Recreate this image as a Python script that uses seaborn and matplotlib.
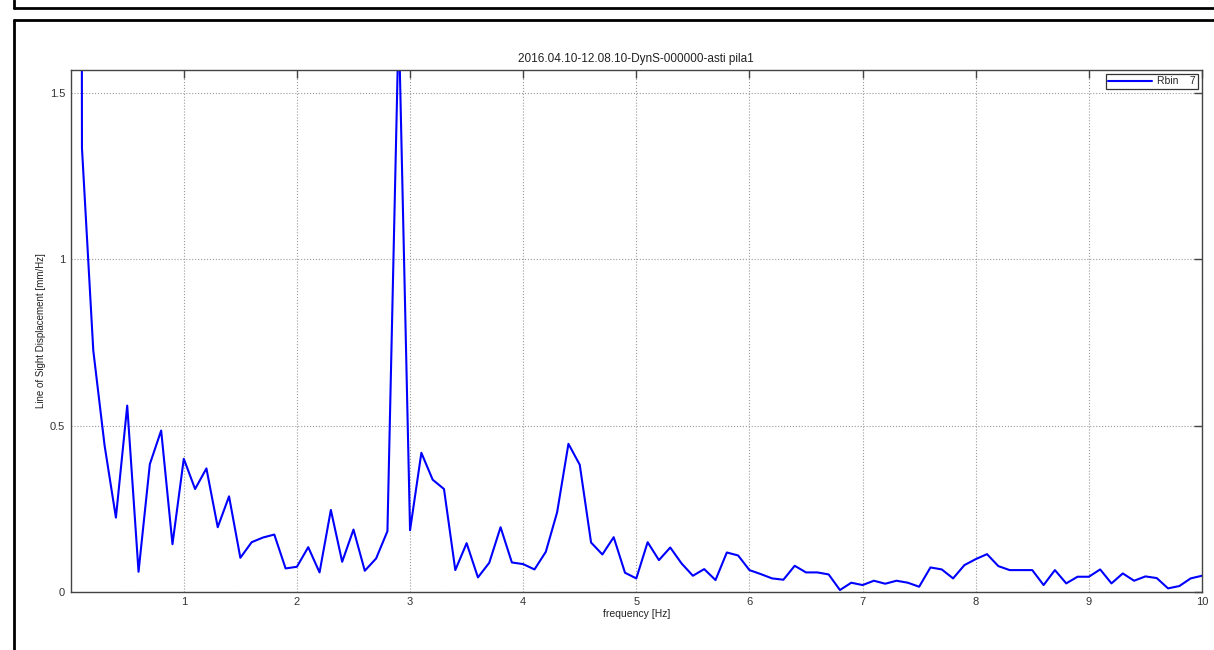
import numpy as np
import pandas as pd
import matplotlib
matplotlib.use("Agg")
import matplotlib.pyplot as plt
import seaborn as sns
from matplotlib.lines import Line2D

# frequency bins, 0.1 Hz step from 0 to 10 Hz
freq = np.linspace(0, 10, 101)

# displacement spectrum (first bin is off-scale DC)
disp = [
    30.0, 1.335, 0.726, 0.44, 0.223, 0.56, 0.06, 0.384, 0.485, 0.143,
    0.40, 0.309, 0.371, 0.194, 0.287, 0.102, 0.149, 0.163, 0.172, 0.07,
    0.075, 0.134, 0.058, 0.246, 0.09, 0.187, 0.063, 0.10, 0.182, 1.72,
    0.185, 0.418, 0.337, 0.309, 0.065, 0.146, 0.043, 0.087, 0.194, 0.088,
    0.083, 0.067, 0.12, 0.239, 0.445, 0.382, 0.148, 0.112, 0.164, 0.057,
    0.04, 0.149, 0.095, 0.133, 0.085, 0.048, 0.068, 0.035, 0.118, 0.109,
    0.065, 0.053, 0.04, 0.036, 0.078, 0.058, 0.058, 0.052, 0.005, 0.027,
    0.02, 0.033, 0.024, 0.033, 0.027, 0.015, 0.073, 0.067, 0.04, 0.08,
    0.098, 0.113, 0.077, 0.065, 0.065, 0.065, 0.02, 0.065, 0.025, 0.045,
    0.045, 0.067, 0.025, 0.055, 0.033, 0.046, 0.041, 0.01, 0.017, 0.04,
    0.048,
]

x_ticks = [1, 2, 3, 4, 5, 6, 7, 8, 9, 10]
y_ticks = [0, 0.5, 1, 1.5]
y_tick_labels = ["0", "0.5", "1", "1.5"]

title = "2016.04.10-12.08.10-DynS-000000-asti pila1"
legend_label = "Rbin    7"

df = pd.DataFrame({"freq": freq, "disp": disp})

sns.set_style("white")
plt.rcParams["font.family"] = ["Liberation Sans", "DejaVu Sans"]

fig = plt.figure(figsize=(12.14, 6.5), dpi=100)
ax = fig.add_axes([0.0582, 0.0897, 0.9319, 0.8026])

sns.lineplot(data=df, x="freq", y="disp", color="#0000ff", linewidth=1.5,
             label=legend_label, ax=ax)

ax.set_xlim(0, 10)
ax.set_ylim(0, 1.57)
ax.set_xticks(x_ticks)
ax.set_yticks(y_ticks)
ax.set_yticklabels(y_tick_labels)

ax.grid(True, linestyle=":", color="#999999", linewidth=0.8)
for s in ax.spines.values():
    s.set_color("#444444")
    s.set_linewidth(1.0)
ax.tick_params(direction="in", length=6, width=1.0, color="#444444",
               labelsize=8, labelcolor="#333333", top=True, right=True,
               pad=4)

ax.set_title(title, fontsize=8.5, color="#222222", pad=6)
ax.set_xlabel("frequency [Hz]", fontsize=7.5, color="#222222", labelpad=1)
ax.set_ylabel("Line of Sight Displacement [mm/Hz]", fontsize=7,
              color="#222222", labelpad=3,
              family=["Liberation Sans Narrow", "Liberation Sans"])

leg = ax.legend(loc="upper right", fontsize=7.5, handlelength=4.2,
                fancybox=False, framealpha=1, edgecolor="#333333",
                borderaxespad=0.35, borderpad=0.25, handletextpad=0.5)
leg.get_frame().set_linewidth(0.9)

# screenshot frames around the figure
W, H = 1214, 650
def px_line(x0, y0, x1, y1, lw):
    fig.add_artist(Line2D([x0 / W, x1 / W], [1 - y0 / H, 1 - y1 / H],
                          transform=fig.transFigure, color="black",
                          linewidth=lw))

px_line(14, 8, W, 8, 2.0)
px_line(14, 0, 14, 8, 2.0)
px_line(14, 20, W, 20, 2.0)
px_line(14, 20, 14, H, 2.0)

fig.savefig("out.png", dpi=100)
